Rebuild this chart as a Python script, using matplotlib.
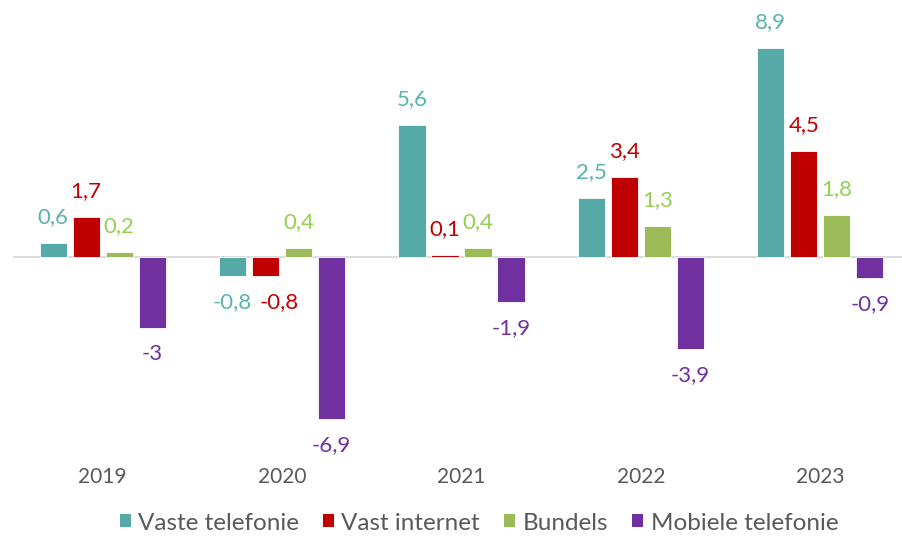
import matplotlib
matplotlib.use("Agg")
import matplotlib.pyplot as plt
import numpy as np
from matplotlib.patches import Patch

plt.rcParams["font.family"] = ["Lato", "DejaVu Sans"]

years = ["2019", "2020", "2021", "2022", "2023"]
series = ["Vaste telefonie", "Vast internet", "Bundels", "Mobiele telefonie"]
vaste = [0.6, -0.8, 5.6, 2.5, 8.9]
internet = [1.7, -0.8, 0.1, 3.4, 4.5]
bundels = [0.2, 0.4, 0.4, 1.3, 1.8]
mobiel = [-3, -6.9, -1.9, -3.9, -0.9]

BAR_COLORS = ["#55AAA8", "#C00000", "#9BBB59", "#7030A0"]
LABEL_COLORS = ["#5AB2AE", "#C00000", "#92D050", "#7030A0"]
GREY = "#595959"

# labels that Excel pushed sideways so they don't collide (series idx, year idx) -> px
NUDGE = {(1, 1): 14}

fig = plt.figure(figsize=(9.02, 5.38), dpi=100)
ax = fig.add_axes([13 / 902, 1 - 445 / 538, 897 / 902, 423 / 538])

x = np.arange(len(years))
step = 0.184
width = 0.152
data = [vaste, internet, bundels, mobiel]

for i, vals in enumerate(data):
    xs = x + (i - 1.5) * step
    ax.bar(xs, vals, width, color=BAR_COLORS[i], edgecolor="white", linewidth=0.6,
           zorder=2)
    for j, (xx, v) in enumerate(zip(xs, vals)):
        txt = f"{v:g}".replace(".", ",")
        off = 26 if v >= 0 else -26
        dx = NUDGE.get((i, j), 0)
        ax.annotate(txt, (xx, v), textcoords="offset points",
                    xytext=(dx * 0.72, off * 0.72),
                    ha="center", va="center", fontsize=16, color=LABEL_COLORS[i],
                    annotation_clip=False)

ax.axhline(0, color="#D9D9D9", lw=1.3, zorder=1)
ax.set_xlim(-0.5, 4.5)
ax.set_ylim(-8, 10)
ax.set_yticks([])
ax.set_xticks(x)
ax.set_xticklabels(years, fontsize=15, color=GREY)
ax.tick_params(axis="x", length=0, pad=16)
for s in ax.spines.values():
    s.set_visible(False)

handles = [Patch(facecolor=c, edgecolor="none") for c in BAR_COLORS]
fig.legend(handles, series, loc="center", bbox_to_anchor=(479 / 902, 1 - 523 / 538),
           ncol=4, frameon=False, fontsize=17.5, labelcolor=GREY, handlelength=0.45,
           handleheight=0.45, handletextpad=0.3, columnspacing=1.0)

plt.savefig("out.png", dpi=100, facecolor="white")
